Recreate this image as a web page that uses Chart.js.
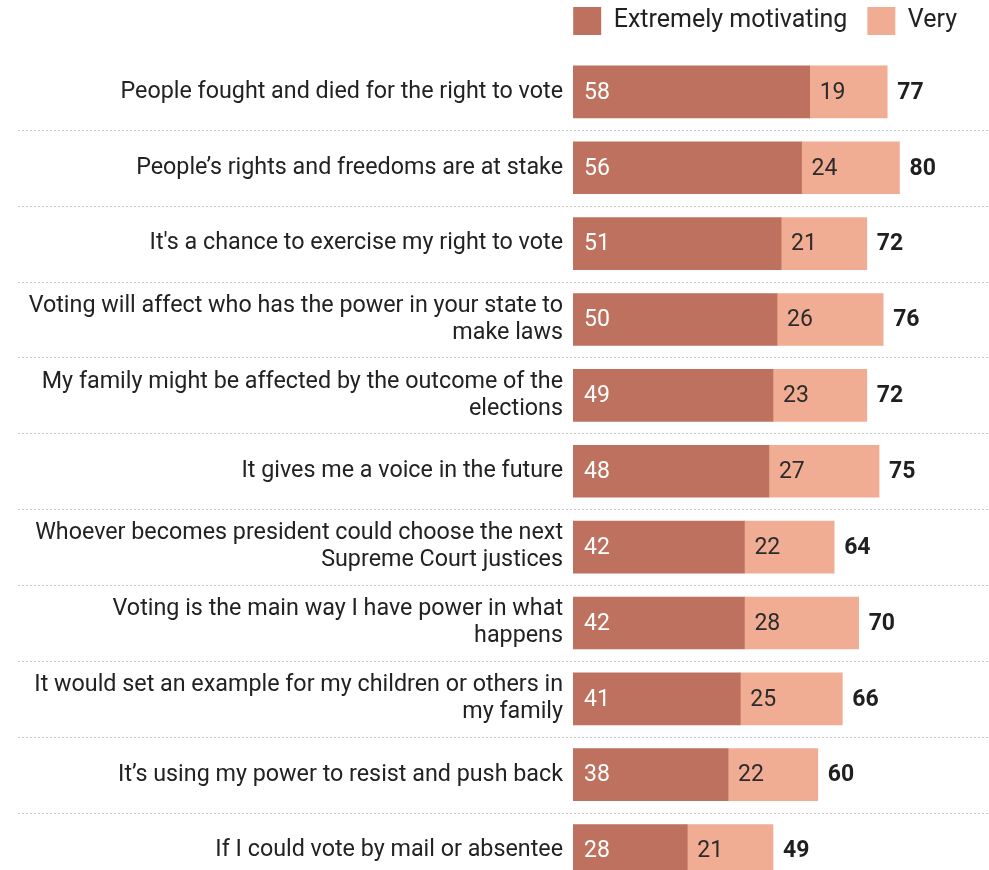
<!DOCTYPE html>
<html lang="en">
<head>
<meta charset="UTF-8">
<title>Motivations to vote</title>
<script src="https://cdn.jsdelivr.net/npm/chart.js"></script>
<style>
  html, body { margin: 0; padding: 0; background: #fff; overflow: hidden; }
  #wrap { position: relative; width: 989px; height: 912px; }
</style>
</head>
<body>
<div id="wrap"><canvas id="chart"></canvas></div>
<script>
const reasons = [
  'People fought and died for the right to vote',
  'People\u2019s rights and freedoms are at stake',
  'It\'s a chance to exercise my right to vote',
  ['Voting will affect who has the power in your state to', 'make laws'],
  ['My family might be affected by the outcome of the', 'elections'],
  'It gives me a voice in the future',
  ['Whoever becomes president could choose the next', 'Supreme Court justices'],
  ['Voting is the main way I have power in what', 'happens'],
  ['It would set an example for my children or others in', 'my family'],
  'It\u2019s using my power to resist and push back',
  'If I could vote by mail or absentee'
];
const extremely = [58, 56, 51, 50, 49, 48, 42, 42, 41, 38, 28];
const very      = [19, 24, 21, 26, 23, 27, 22, 28, 25, 22, 21];
const totals    = [77, 80, 72, 76, 72, 75, 64, 70, 66, 60, 49];

const FONT = 'Roboto, "Noto Sans", sans-serif';

// dotted separators between rows, across the whole width
const separators = {
  id: 'separators',
  beforeDatasetsDraw(chart) {
    const c = chart.ctx, y = chart.scales.y;
    c.save();
    c.strokeStyle = '#c8c8c8';
    c.lineWidth = 1;
    c.setLineDash([2, 2]);
    for (let i = 1; i < reasons.length; i++) {
      const py = Math.round((y.getPixelForValue(i - 1) + y.getPixelForValue(i)) / 2) + 0.5;
      c.beginPath();
      c.moveTo(18, py);
      c.lineTo(chart.width, py);
      c.stroke();
    }
    c.restore();
  }
};

// value labels inside the segments and totals after the bars
const valueLabels = {
  id: 'valueLabels',
  afterDatasetsDraw(chart) {
    const c = chart.ctx;
    c.save();
    c.textBaseline = 'middle';
    c.textAlign = 'left';
    const m0 = chart.getDatasetMeta(0), m1 = chart.getDatasetMeta(1);
    m0.data.forEach((bar, i) => {
      c.font = '23px ' + FONT;
      c.fillStyle = '#ffffff';
      c.fillText(extremely[i], bar.base + 11, bar.y + 1);
      const b1 = m1.data[i];
      c.fillStyle = '#2b2b2b';
      c.fillText(very[i], b1.base + 10, b1.y + 1);
      c.font = 'bold 23px ' + FONT;
      c.fillStyle = '#1f1f1f';
      c.fillText(totals[i], b1.x + 10, b1.y + 1);
    });
    c.restore();
  }
};

new Chart(document.getElementById('chart'), {
  type: 'bar',
  data: {
    labels: reasons,
    datasets: [
      { label: 'Extremely motivating', data: extremely, backgroundColor: '#bd715e', borderWidth: 0 },
      { label: 'Very', data: very, backgroundColor: '#f1ad93', borderWidth: 0 }
    ]
  },
  options: {
    indexAxis: 'y',
    responsive: true,
    maintainAspectRatio: false,
    animation: false,
    barThickness: 52,
    layout: { padding: { top: -13, right: 12, left: 0, bottom: 0 } },
    plugins: {
      tooltip: { enabled: false },
      legend: {
        position: 'top',
        align: 'end',
        labels: {
          boxWidth: 28,
          boxHeight: 28,
          padding: 20,
          color: '#222',
          font: { family: FONT, size: 25 }
        }
      }
    },
    scales: {
      x: {
        stacked: true, position: 'top', min: 0, max: 99,
        ticks: { display: false },
        grid: { display: false, drawTicks: false },
        border: { display: false },
        afterFit(scale) { scale.height = 9; }
      },
      y: {
        stacked: true,
        grid: { display: false, drawTicks: false },
        border: { display: false },
        ticks: {
          padding: 10,
          color: '#222',
          font: { family: FONT, size: 23.3, lineHeight: 1.16 }
        },
        afterFit(scale) { scale.width = 573; }
      }
    }
  },
  plugins: [separators, valueLabels]
});
</script>
</body>
</html>
